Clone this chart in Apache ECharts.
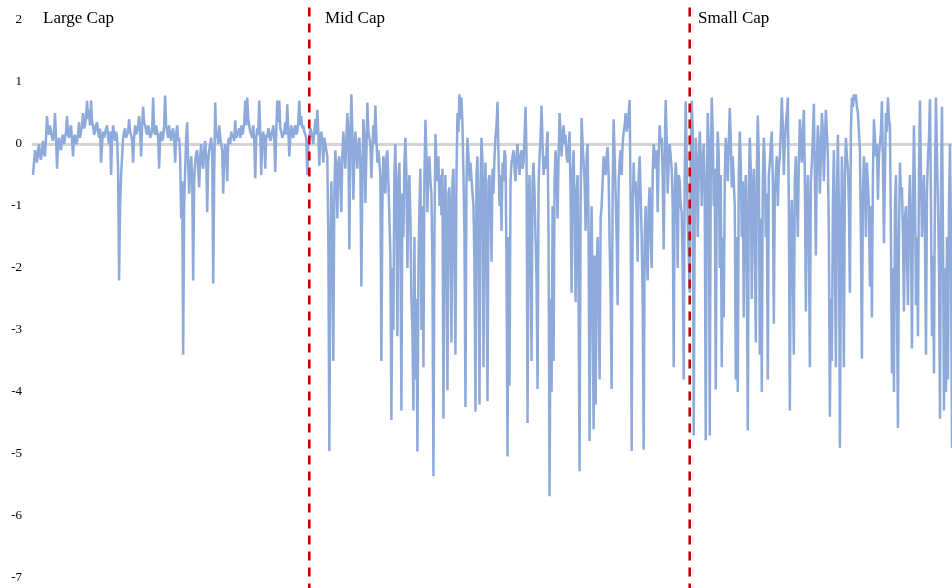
<!DOCTYPE html>
<html><head><meta charset="utf-8">
<script src="https://cdn.jsdelivr.net/npm/echarts@6/dist/echarts.min.js"></script>
<style>html,body{margin:0;padding:0;background:#fff}#c{width:952px;height:588px}</style>
</head><body><div id="c"></div>
<script>
// Segment labels; boundaries are the index where each segment starts
const segmentNames = ["Large Cap", "Mid Cap", "Small Cap"];
const yTicks = [-7, -6, -5, -4, -3, -2, -1, 0, 1, 2];

const largeCap = [
-0.5,-0.3,-0.1,-0.2,-0.3,-0.1,0.0,-0.2,-0.25,-0.1,0.05,-0.15,-0.2,0.1,0.45,0.2,0.15,0.3,0.3,0.1,
0.05,0.2,0.5,0.1,-0.4,0.0,0.1,-0.05,-0.1,0.1,0.15,0.0,0.0,0.2,0.45,0.15,0.1,0.25,0.3,0.05,
-0.2,0.1,0.15,0.0,0.05,0.15,0.35,0.1,0.2,0.3,0.5,0.25,0.3,0.45,0.7,0.4,0.55,0.3,0.7,0.35,
0.3,0.15,0.2,0.3,0.35,0.2,0.1,0.25,-0.3,0.0,0.2,0.1,0.1,0.25,0.3,0.1,0.0,0.2,-0.5,0.05,
0.3,0.15,0.05,0.2,0.1,-0.4,-2.2,-1.0,-0.5,-0.2,0.1,0.2,0.25,0.1,0.1,0.2,0.4,0.2,0.15,0.05,
-0.3,0.1,0.3,0.15,0.2,0.3,0.45,0.2,-0.2,0.3,0.6,0.35,0.3,0.2,0.15,0.3,0.25,0.1,0.1,0.2,
0.75,0.25,0.15,0.3,0.3,0.1,-0.4,0.15,0.2,0.05,0.1,0.3,0.78,0.3,0.2,0.1,0.3,0.15,0.05,0.2,
0.25,0.1,-0.3,0.15,0.3,0.05,0.1,-0.2,-1.2,-0.6,-3.4,-1.0,-0.4,0.1,0.35,-0.3,-0.8,-0.4,-0.2,-0.5,
-2.2,-0.6,-0.3,-0.15,-0.1,-0.4,-0.7,-0.2,0.0,-0.3,-0.4,-0.1,0.05,-0.2,-1.1,-0.3,-0.1,0.0,0.1,-0.1,
-2.25,-0.5,0.67,0.1,0.2,0.0,0.3,0.1,0.1,-0.1,-0.8,-0.2,0.0,-0.2,-0.6,0.05,0.1,0.0,0.2,0.1,
0.15,0.05,0.38,0.1,0.1,0.2,0.25,0.1,0.3,0.15,0.2,0.35,0.7,0.3,0.75,0.4,0.4,0.2,0.2,0.1,
0.3,0.05,-0.55,0.1,0.25,0.15,0.7,0.2,-0.5,0.1,0.2,0.05,-0.4,0.15,0.1,0.25,0.2,0.05,0.1,0.2,
0.3,0.1,-0.45,0.2,0.7,0.35,0.7,0.25,0.2,0.1,0.1,0.2,0.35,0.15,0.64,0.25,-0.2,0.1,0.3,0.15,
0.1,0.25,0.3,0.15,0.2,0.35,0.7,0.3,0.45,0.25,0.3,0.2,0.15,0.1,-0.5,0.0
];
const midCap = [
0.1,0.25,0.2,0.1,0.0,0.2,0.4,0.15,0.55,0.2,-0.35,0.1,0.2,0.05,-0.3,0.1,0.1,-0.1,-0.2,-1.5,
-4.95,-2.0,-0.6,-1.5,-3.5,-0.8,-0.1,-0.5,-1.2,-0.3,-0.2,-0.6,-1.1,-0.2,0.2,-0.1,-0.4,0.1,0.5,0.2,
-1.7,0.1,0.8,0.2,-0.9,-0.2,0.2,-0.1,-0.4,0.0,0.1,-0.3,-2.3,-0.6,0.4,0.1,-0.95,-0.2,0.67,0.2,
0.1,0.0,-0.55,-0.1,0.3,0.0,0.62,0.1,-0.3,-0.1,-0.1,-0.5,-3.5,-1.0,-0.2,-0.4,-0.8,-0.2,-0.1,-0.6,
-0.6,-1.8,-4.45,-2.0,-3.0,-0.5,0.0,-1.0,-3.1,-0.6,-0.3,-1.5,-4.3,-0.8,-1.5,-0.3,0.1,-0.5,-2.0,-0.8,
-0.5,-1.2,-2.5,-3.0,-4.3,-1.5,-3.8,-2.5,-4.96,-2.0,-1.0,-0.4,-3.0,-1.0,-3.6,-0.5,0.39,-0.2,-1.1,-0.3,
-0.2,-0.6,-0.8,-2.0,-5.36,-1.5,0.16,-0.3,-0.6,-0.2,-1.0,-0.5,-1.15,-0.4,-4.43,-1.2,-0.5,-2.0,-3.97,-0.8,
-0.7,-1.5,-3.2,-0.6,-0.4,-1.8,-3.4,-0.5,0.5,0.2,0.8,0.4,0.75,0.3,-0.5,-1.5,-4.24,-0.6,0.1,-0.2,
-0.6,-0.3,-0.3,-0.8,-1.0,-2.0,-4.32,-0.5,-0.2,-1.5,-4.2,-0.7,0.1,-0.3,-3.6,-1.0,-0.3,-1.8,-4.15,-0.6,
-0.5,-0.9,-1.9,-0.4,-0.8,-0.2,0.1,0.3,0.68,-0.2,-1.0,-0.5,-1.4,-0.3,-0.6,-0.1,-0.2,-2.0,-5.04,-1.5,
-3.9,-0.6,-0.3,-0.2,-0.1,-0.4,-0.6,-0.2,0.0,-0.3,-0.5,-0.2,-0.1,-0.4,-0.3,0.1,0.6,-0.2,-4.5,-1.0,
-0.5,-1.8,-3.5,-0.6,-0.3,-0.8,-1.5,-2.2,-3.95,-0.7,-0.2,0.1,0.62,0.0,-0.5,-0.2,-0.4,-0.1,0.2,-1.5,
-5.68,-2.5,-4.0,-1.0,-3.5,-0.6,-0.1,-0.4,-1.2,-0.2,0.5,0.2,-0.2,0.1,0.3,0.0,0.15,-0.2,-0.3,-0.1,
0.2,-0.8,-2.4,-0.5,-0.1,-1.0,-2.55,-0.8,-0.5,-2.5,-5.28,-1.0,0.42,0.0,-0.3,-0.6,-1.4,-0.2,0.0,-1.5,
-4.79,-2.0,-1.0,-2.5,-4.6,-1.8,-4.2,-2.0,-1.5,-2.5,-3.8,-1.2,-1.0,-0.6,-0.2,-0.4,-0.5,-0.2,-0.05,-0.5,
-1.6,-2.5,-3.95,-0.8,0.4,-0.2,-0.8,-1.5,-2.6,-0.6,-0.3,-0.1,-0.5,0.0,0.2,0.3,0.5,0.2,0.3,0.5,
0.71,-1.0,-4.95,-1.2,-0.3,-0.8,-0.6,-1.2,-1.9,-0.5,-0.2,-0.8,-1.5,-2.5,-4.93,-1.5,-1.0,-1.8,-2.2,-1.0,
-0.7,-1.5,-2.0,-0.5,0.0,-0.2,-0.4,-0.1,-1.1,-0.2,0.3,0.0,0.1,-0.5,-1.7,-0.2,0.71,0.1,-0.8,-0.3,
0.0,-0.2,-0.4,-1.0,-3.6,-0.8,-0.3,-0.6,-2.0,-0.5,-0.6,-1.0,-1.1,-2.0,-3.8,-0.5,0.69,-0.3,-1.2,-1.8
];
const smallCap = [
-2.4,-0.3,0.7,0.2,-4.7,-1.0,0.1,-0.3,-1.5,-0.4,0.2,-0.2,-1.0,-0.3,0.0,-0.8,-4.78,-1.0,0.5,0.0,
-4.7,-0.5,0.75,0.2,-1.0,-0.4,-3.96,-0.8,0.2,-0.2,-2.0,-0.5,-3.6,-1.5,-2.8,-0.6,0.1,-0.2,-0.6,0.0,
0.58,0.1,-0.7,-0.2,-0.2,-1.0,-3.8,-1.5,-4.0,-0.5,0.2,-0.3,-1.5,-0.6,-2.8,-1.0,-0.5,-1.8,-4.62,-0.8,
0.1,-0.4,-2.5,-0.8,-0.4,-1.5,-3.2,-0.5,0.46,-0.2,-3.4,-1.2,-4.0,-0.6,0.1,-0.3,-1.5,-0.8,-3.8,-0.5,
-0.3,0.0,0.2,-0.6,-2.9,-0.8,-0.5,-0.2,-1.0,-0.4,-0.2,0.2,0.75,0.3,-0.5,0.0,0.3,0.5,0.75,-1.0,
-4.3,-1.5,-0.9,-2.0,-3.4,-0.6,-0.2,-0.8,-1.5,-0.3,0.4,0.0,-0.3,0.2,0.55,-0.5,-2.7,-1.0,-0.5,-1.5,
-3.6,-0.6,-0.3,0.1,0.65,-0.5,-1.8,-0.3,0.3,0.0,-0.8,-0.2,0.5,0.2,-0.6,0.0,0.55,0.2,-0.2,-1.5,
-4.4,-2.5,-3.5,-1.0,-0.1,-1.8,-3.6,-0.8,0.15,-1.0,-4.9,-2.0,-0.2,-1.5,-3.6,-0.5,0.1,-0.2,-0.4,-1.0,
-2.4,0.2,0.75,0.6,0.8,0.7,0.8,0.6,0.5,0.2,-0.1,-1.5,-3.46,-0.8,-0.2,-0.6,-1.5,-0.3,-0.3,-1.0,
-2.3,-1.0,-2.8,-0.5,0.4,0.1,-0.2,0.0,-0.9,-0.2,0.0,0.2,0.69,-0.3,-1.6,-0.5,0.5,0.2,0.75,0.4,
0.3,-1.5,-3.7,-2.0,-4.0,-1.0,-0.5,-2.5,-4.58,-1.5,-0.3,-0.8,-0.7,-1.5,-2.7,-1.2,-1.0,-1.8,-2.6,-1.0,
-0.5,-1.5,-3.3,-1.0,0.3,-0.8,-2.6,-1.5,-3.1,-0.5,0.7,-0.5,-1.5,-0.8,-0.5,-1.5,-3.4,-0.8,-0.2,0.1,
0.72,-1.0,-3.1,-1.8,-3.7,-0.5,0.75,-0.2,-1.0,-2.0,-4.43,-0.8,0.6,-1.5,-4.3,-2.0,-4.0,-1.5,-3.8,-1.0,
0.0,-1.5,-4.9
];

const values = largeCap.concat(midCap, smallCap);
const points = values.map((v, i) => [i, v]);
const lastIndex = values.length - 1;
const boundaries = [largeCap.length, largeCap.length + midCap.length];
const dashTop = 2.2, dashBottom = -7.2;

const chart = echarts.init(document.getElementById('c'), null, {renderer: 'canvas'});
const serif = '"Liberation Serif","Times New Roman",serif';

const series = [{
  type: 'line',
  data: points,
  showSymbol: false,
  clip: true,
  lineStyle: {color: '#8eaadb', width: 2.5},
  itemStyle: {color: '#8eaadb'},
  z: 3
}];
boundaries.forEach(b => {
  series.push({
    type: 'line',
    data: [[b, dashTop], [b, dashBottom]],
    showSymbol: false,
    clip: false,
    silent: true,
    lineStyle: {color: '#c80000', width: 2.6, type: [9, 7]},
    z: 5
  });
});

chart.setOption({
  animation: false,
  backgroundColor: '#ffffff',
  grid: {left: 33, right: 0, top: 20, bottom: 10, containLabel: false},
  xAxis: {
    type: 'value', min: 0, max: lastIndex,
    axisLine: {show: true, onZero: true, lineStyle: {color: '#d4d4d4', width: 3}},
    axisTick: {show: false}, axisLabel: {show: false}, splitLine: {show: false}
  },
  yAxis: {
    type: 'value', min: yTicks[0], max: yTicks[yTicks.length - 1], interval: 1,
    axisLine: {show: false}, axisTick: {show: false}, splitLine: {show: false},
    axisLabel: {color: '#000', fontFamily: serif, fontSize: 13, margin: 11}
  },
  graphic: segmentNames.map((name, k) => ({
    type: 'text',
    left: [43, 325, 698][k], top: 10,
    style: {text: name, font: '17px ' + serif, fill: '#000'}
  })),
  series: series
});
</script></body></html>
